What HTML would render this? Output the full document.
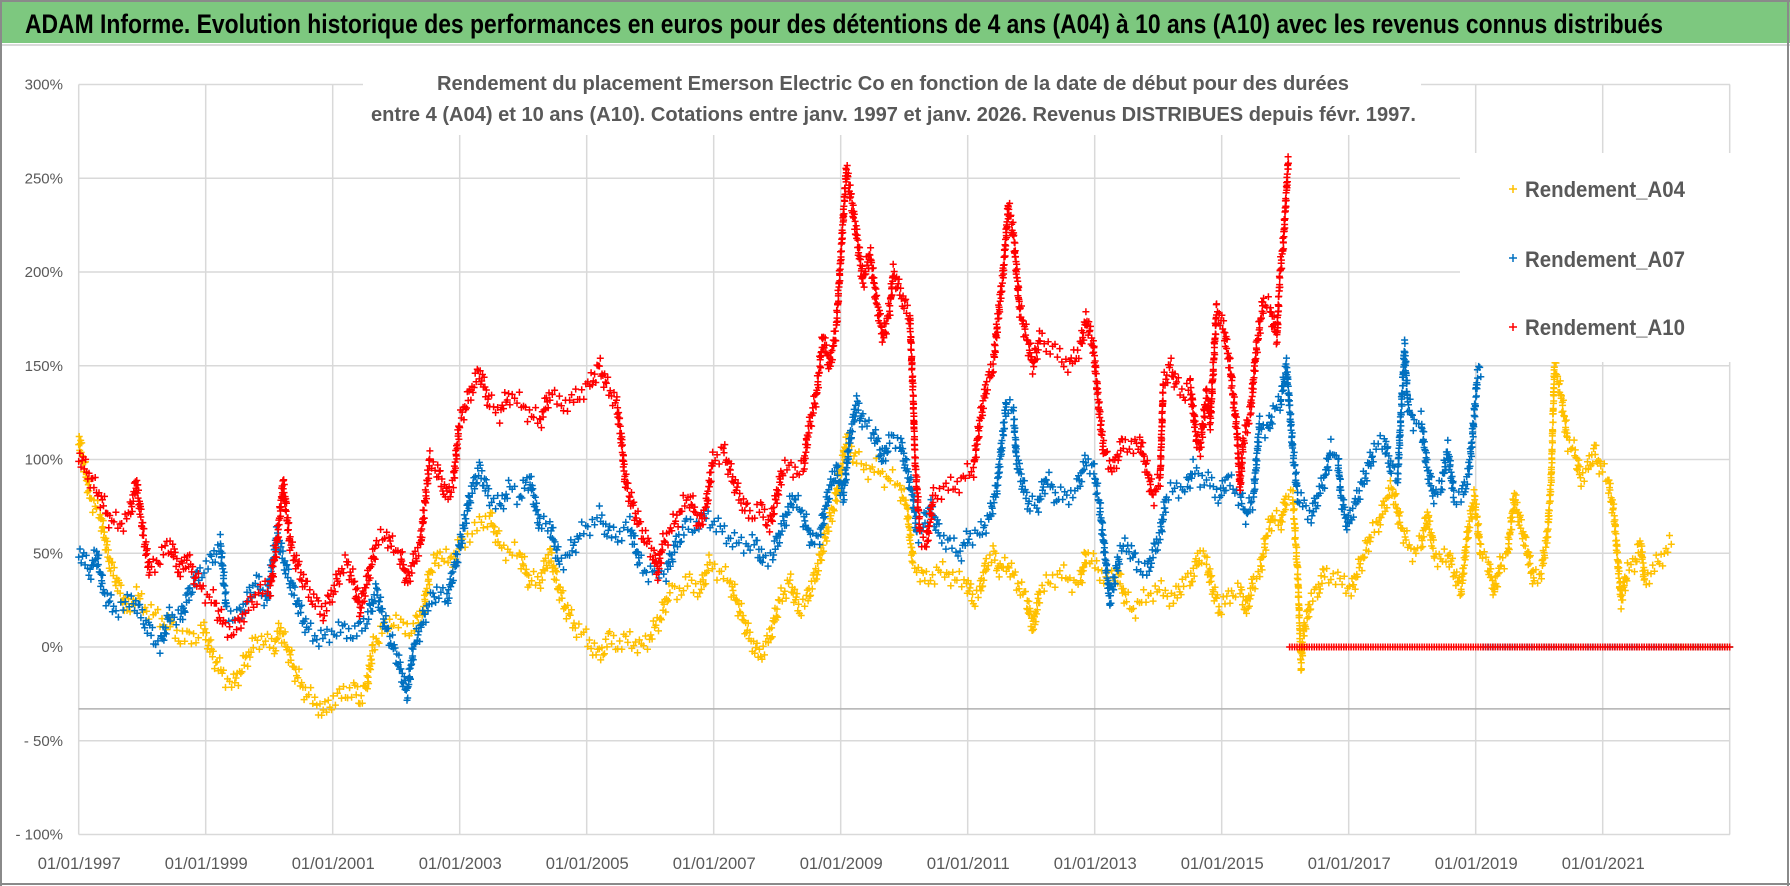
<!DOCTYPE html>
<html lang="fr">
<head>
<meta charset="utf-8">
<title>ADAM Informe - Emerson Electric Co</title>
<style>
html,body{margin:0;padding:0;background:#fff;}
svg{display:block;}
text{font-family:"Liberation Sans Narrow","Liberation Sans",sans-serif;}
</style>
</head>
<body>
<svg id="chart" width="1790" height="886" viewBox="0 0 1790 886" xmlns="http://www.w3.org/2000/svg">
  <rect x="0" y="0" width="1790" height="886" fill="#ffffff"/>
  <rect x="0" y="0" width="1790" height="43" fill="#7dc87f"/>
  <line x1="0" y1="45" x2="1790" y2="45" stroke="#d9d9d9" stroke-width="2"/>
  <text x="25" y="33" font-size="27" font-weight="bold" fill="#000" textLength="1638" lengthAdjust="spacingAndGlyphs">ADAM Informe. Evolution historique des performances en euros pour des détentions de 4 ans (A04) à 10 ans (A10) avec les revenus connus distribués</text>
  <g id="grid"></g>
  <g id="marks"></g>
  <rect x="363" y="60" width="1058" height="75" fill="#ffffff"/>
  <text x="437" y="90" font-size="20" font-weight="bold" fill="#595959" textLength="912" lengthAdjust="spacingAndGlyphs">Rendement du placement Emerson Electric Co en fonction de la date de début pour des durées</text>
  <text x="371" y="121" font-size="20" font-weight="bold" fill="#595959" textLength="1045" lengthAdjust="spacingAndGlyphs">entre 4 (A04) et 10 ans (A10). Cotations entre janv. 1997 et janv. 2026. Revenus DISTRIBUES depuis févr. 1997.</text>
  <g>
    <rect x="1460" y="153" width="275" height="209" fill="#ffffff"/>
    <g>
      <path d="M1509 189h8M1513 185v8" stroke="#ffc000" stroke-width="1.5"/>
      <text x="1525" y="197" font-size="22" font-weight="bold" fill="#595959" textLength="160" lengthAdjust="spacingAndGlyphs">Rendement_A04</text>
    </g>
    <g>
      <path d="M1509 258h8M1513 254v8" stroke="#0070c0" stroke-width="1.5"/>
      <text x="1525" y="267" font-size="22" font-weight="bold" fill="#595959" textLength="160" lengthAdjust="spacingAndGlyphs">Rendement_A07</text>
    </g>
    <g>
      <path d="M1509 327h8M1513 323v8" stroke="#ff0000" stroke-width="1.5"/>
      <text x="1525" y="335" font-size="22" font-weight="bold" fill="#595959" textLength="160" lengthAdjust="spacingAndGlyphs">Rendement_A10</text>
    </g>
  </g>
  <g id="axes"></g>
  <line x1="1" y1="0" x2="1" y2="886" stroke="#8a8a8a" stroke-width="2"/>
  <line x1="1788" y1="0" x2="1788" y2="886" stroke="#8a8a8a" stroke-width="2"/>
  <line x1="0" y1="884" x2="1790" y2="884" stroke="#8a8a8a" stroke-width="2"/>
  <line x1="0" y1="1" x2="1790" y2="1" stroke="#8a8a8a" stroke-width="2"/>
</svg>
<script>
const yTicks = [300, 250, 200, 150, 100, 50, 0, -50, -100];
const yTickLabels = ["300%", "250%", "200%", "150%", "100%", "50%", "0%", "- 50%", "- 100%"];
const xTickYears = [1997, 1999, 2001, 2003, 2005, 2007, 2009, 2011, 2013, 2015, 2017, 2019, 2021];
const xTickLabels = ["01/01/1997","01/01/1999","01/01/2001","01/01/2003","01/01/2005","01/01/2007","01/01/2009","01/01/2011","01/01/2013","01/01/2015","01/01/2017","01/01/2019","01/01/2021"];
const referenceLineValue = -33;

const a04Years = [1997.00,1997.07,1997.18,1997.34,1997.49,1997.60,1997.76,1997.91,1998.07,1998.28,1998.44,1998.60,1998.81,1998.96,1999.12,1999.28,1999.44,1999.59,1999.75,1999.91,2000.07,2000.17,2000.33,2000.43,2000.59,2000.75,2000.85,2001.01,2001.17,2001.33,2001.43,2001.54,2001.64,2001.80,2001.96,2002.11,2002.27,2002.43,2002.53,2002.69,2002.85,2003.01,
2003.16,2003.31,2003.47,2003.63,2003.79,2003.94,2004.10,2004.26,2004.42,2004.57,2004.68,2004.84,2004.99,2005.20,2005.36,2005.52,2005.68,2005.83,2005.99,2006.15,2006.31,2006.46,2006.62,2006.78,2006.94,2007.09,2007.25,2007.41,2007.57,2007.72,2007.88,2008.04,2008.20,2008.35,2008.46,2008.62,2008.77,2008.93,2009.09,2009.25,2009.40,2009.56,2009.72,
2009.78,2009.93,2010.04,2010.14,2010.25,2010.35,2010.51,2010.67,2010.83,2010.98,2011.09,2011.19,2011.30,2011.40,2011.51,2011.61,2011.77,2011.93,2012.03,2012.14,2012.30,2012.45,2012.61,2012.77,2012.87,2012.98,2013.08,2013.24,2013.35,2013.50,2013.61,2013.77,2013.92,2014.08,2014.24,2014.40,2014.50,2014.66,2014.76,2014.87,2014.97,2015.08,2015.18,2015.29,2015.39,2015.50,2015.60,2015.71,2015.81,2015.92,2016.02,
2016.12,2016.20,2016.25,2016.30,2016.41,2016.51,2016.62,2016.72,2016.83,2016.93,2017.04,2017.14,2017.25,2017.35,2017.46,2017.56,2017.67,2017.72,2017.82,2017.93,2018.03,2018.14,2018.24,2018.35,2018.45,2018.56,2018.66,2018.77,2018.87,2018.98,2019.08,2019.19,2019.29,2019.40,2019.50,2019.61,2019.71,2019.82,2019.92,2020.03,2020.13,2020.19,2020.24,2020.34,2020.45,2020.55,2020.66,2020.76,2020.87,2020.97,2021.08,2021.18,2021.24,2021.29,2021.39,2021.50,2021.60,2021.66,2021.76,2021.87,2021.97,2022.08,
2022.12,2022.50,2023.00];
const a04Values = [112,100,80,70,45,35,20,28,20,15,12,5,5,10,-5,-15,-20,-10,1,5,-1,10,-5,-15,-25,-30,-35,-28,-25,-22,-28,-20,1,10,15,10,10,20,40,50,45,55,
60,65,70,55,50,50,35,35,50,30,20,10,5,-5,5,1,5,-1,5,15,30,30,35,30,45,40,35,20,5,-5,5,25,35,20,25,40,60,80,110,100,95,95,90,
90,85,75,45,40,35,40,40,35,35,25,30,45,50,40,45,35,25,10,30,35,40,35,35,50,45,40,35,40,25,20,25,30,30,25,35,35,50,45,30,20,25,30,30,20,35,40,60,70,65,80,
80,37,-10,10,25,30,40,38,35,35,30,40,50,60,65,75,85,80,65,55,50,55,70,50,45,50,40,30,60,80,50,45,30,45,50,80,65,50,35,40,60,90,150,135,110,105,90,95,105,95,90,70,45,25,40,45,55,35,40,45,50,55,
0,0,0];

const a07Years = [1997.00,1997.18,1997.28,1997.39,1997.55,1997.70,1997.86,1998.02,1998.18,1998.28,1998.44,1998.60,1998.75,1998.91,1999.07,1999.23,1999.33,1999.49,1999.65,1999.80,1999.96,2000.12,2000.28,2000.43,2000.59,2000.75,2000.91,2001.06,2001.22,2001.38,2001.54,2001.69,2001.80,2001.90,2002.01,2002.17,2002.27,2002.38,2002.48,2002.64,2002.80,2002.90,2003.01,
2003.16,2003.31,2003.47,2003.63,2003.79,2003.94,2004.10,2004.26,2004.42,2004.57,2004.73,2004.89,2005.05,2005.20,2005.36,2005.52,2005.68,2005.83,2005.94,2006.10,2006.25,2006.41,2006.57,2006.73,2006.88,2007.04,2007.20,2007.36,2007.51,2007.67,2007.78,2007.93,2008.09,2008.25,2008.41,2008.56,2008.67,2008.83,2008.93,2009.04,2009.14,2009.25,2009.35,2009.51,2009.67,2009.77,
2009.83,2009.93,2010.04,2010.14,2010.20,2010.30,2010.41,2010.56,2010.72,2010.88,2011.04,2011.19,2011.35,2011.46,2011.61,2011.72,2011.77,2011.88,2011.98,2012.09,2012.24,2012.40,2012.56,2012.72,2012.87,2012.98,2013.08,2013.19,2013.24,2013.40,2013.50,2013.66,2013.82,2013.92,2014.03,2014.13,2014.29,2014.45,2014.55,2014.66,2014.76,2014.87,2014.97,2015.08,2015.18,2015.29,2015.39,2015.50,2015.60,2015.71,2015.81,2015.92,2016.02,
2016.12,2016.20,2016.30,2016.41,2016.51,2016.62,2016.72,2016.83,2016.88,2016.98,2017.09,2017.19,2017.30,2017.40,2017.56,2017.67,2017.77,2017.88,2017.93,2018.03,2018.14,2018.24,2018.35,2018.45,2018.56,2018.66,2018.77,2018.87,2018.93,2019.03,2019.08,
2019.12,2020.00,2021.00,2022.00,2023.00];
const a07Values = [52,40,50,30,20,22,25,15,5,1,18,15,30,40,45,55,20,15,25,35,25,60,40,25,10,5,5,10,8,8,15,30,15,5,-5,-25,-1,10,20,30,25,40,55,
80,95,80,75,85,80,90,65,65,45,50,60,65,70,60,60,65,45,40,40,40,55,65,65,70,65,60,55,55,55,45,50,65,80,70,55,60,85,95,80,110,130,120,115,100,110,
110,110,95,80,60,65,75,60,55,50,60,60,70,85,130,125,100,85,75,75,90,80,80,85,100,95,75,40,25,50,55,45,40,50,60,80,85,85,95,90,90,85,80,90,85,80,70,80,120,115,125,130,150,
105,80,75,70,80,90,105,100,80,65,75,85,95,105,110,95,90,160,130,120,120,95,80,85,105,80,80,90,105,145,148,
0,0,0,0,0];

const a10Years = [1997.00,1997.18,1997.34,1997.49,1997.65,1997.81,1997.91,1998.02,1998.12,1998.28,1998.44,1998.60,1998.70,1998.86,1998.96,1999.12,1999.28,1999.44,1999.65,1999.86,2000.01,2000.12,2000.22,2000.33,2000.43,2000.54,2000.70,2000.85,2001.01,2001.12,2001.22,2001.33,2001.43,2001.54,2001.69,2001.85,2001.96,2002.06,2002.17,2002.27,2002.38,2002.53,2002.64,2002.80,2002.90,
2003.00,2003.16,2003.31,2003.47,2003.63,2003.79,2003.94,2004.10,2004.26,2004.42,2004.57,2004.73,2004.89,2005.05,2005.20,2005.31,2005.47,2005.55,2005.60,2005.68,2005.78,2005.89,2006.04,2006.12,2006.20,2006.36,2006.52,2006.62,2006.78,2006.88,2006.99,2007.15,2007.30,2007.41,2007.57,2007.72,2007.88,2007.99,2008.09,2008.25,2008.41,2008.49,2008.62,2008.72,2008.83,2008.93,2009.09,2009.25,2009.35,2009.46,2009.56,2009.67,2009.77,
2009.83,2009.93,2010.09,2010.14,2010.17,2010.25,2010.35,2010.46,2010.62,2010.77,2010.93,2011.09,2011.19,2011.30,2011.40,2011.46,2011.56,2011.64,2011.72,2011.82,2011.93,2012.03,2012.14,2012.30,2012.45,2012.61,2012.77,2012.87,2012.98,2013.06,2013.14,2013.29,2013.45,2013.61,2013.71,2013.82,2013.92,2014.03,2014.08,2014.19,2014.29,2014.40,2014.50,2014.61,2014.66,2014.76,2014.82,2014.87,2014.92,2015.03,2015.13,2015.24,2015.29,2015.34,2015.45,2015.55,2015.66,2015.76,2015.87,2015.92,2015.97,2016.05,
2016.07,2017.00,2018.00,2019.00,2020.00,2021.00,2022.00,2023.00];
const a10Values = [103,90,80,68,65,72,88,60,40,48,55,40,48,35,30,25,12,8,20,30,30,55,88,55,45,35,25,18,30,40,45,35,20,35,55,60,52,50,35,45,55,100,95,80,88,
120,135,147,130,125,135,130,125,120,135,130,130,135,140,150,140,130,110,90,80,70,60,50,40,55,65,75,80,65,75,100,105,90,80,70,75,65,80,95,95,95,115,135,165,150,170,255,220,195,210,185,165,180,
200,190,175,135,100,60,55,80,85,85,90,95,120,140,150,170,200,235,220,180,165,150,165,160,155,150,160,175,160,130,105,95,110,105,110,95,80,90,140,150,140,135,140,110,105,135,120,150,180,170,150,115,85,110,125,160,185,180,165,200,215,260,
0,0,0,0,0,0,0,0];

const X0 = 78.7, PX_PER_YEAR = 63.5, Y0 = 647, PX_PER_PCT = 1.875;
const PLOT_LEFT = 78.7, PLOT_RIGHT = 1730, PLOT_TOP = 84.5, PLOT_BOTTOM = 834.5;
function xScale(year){ return X0 + (year - 1997) * PX_PER_YEAR; }
function yScale(v){ return Y0 - v * PX_PER_PCT; }

const NS = "http://www.w3.org/2000/svg";
const grid = document.getElementById("grid");
const axes = document.getElementById("axes");
const marks = document.getElementById("marks");

yTicks.forEach(function(t, i){
  const ln = document.createElementNS(NS, "line");
  
  
  ln.setAttribute("x1", PLOT_LEFT); ln.setAttribute("x2", PLOT_RIGHT);
  ln.setAttribute("y1", yScale(t)); ln.setAttribute("y2", yScale(t));
  ln.setAttribute("stroke", "#d9d9d9"); ln.setAttribute("stroke-width", "1.5");
  grid.appendChild(ln);
  const tx = document.createElementNS(NS, "text");
  
  
  tx.setAttribute("x", 63); tx.setAttribute("y", yScale(t) + 5);
  tx.setAttribute("text-anchor", "end"); tx.setAttribute("font-size", "15");
  tx.setAttribute("fill", "#595959");
  tx.textContent = yTickLabels[i];
  axes.appendChild(tx);
});
for (let yr = 1997; yr <= 2023; yr += 2) {
  const ln = document.createElementNS(NS, "line");
  
  
  ln.setAttribute("x1", xScale(yr)); ln.setAttribute("x2", xScale(yr));
  ln.setAttribute("y1", PLOT_TOP); ln.setAttribute("y2", PLOT_BOTTOM);
  ln.setAttribute("stroke", "#d9d9d9"); ln.setAttribute("stroke-width", "1.5");
  grid.appendChild(ln);
}
const refLine = document.createElementNS(NS, "line");


refLine.setAttribute("x1", PLOT_LEFT); refLine.setAttribute("x2", PLOT_RIGHT);
refLine.setAttribute("y1", yScale(referenceLineValue)); refLine.setAttribute("y2", yScale(referenceLineValue));
refLine.setAttribute("stroke", "#b0b0b0"); refLine.setAttribute("stroke-width", "1.5");
grid.appendChild(refLine);

xTickYears.forEach(function(yr, i){
  const tx = document.createElementNS(NS, "text");
  
  
  tx.setAttribute("x", xScale(yr) - 41); tx.setAttribute("y", 869);
  tx.setAttribute("font-size", "17"); tx.setAttribute("fill", "#595959");
  tx.setAttribute("textLength", "83"); tx.setAttribute("lengthAdjust", "spacingAndGlyphs");
  tx.textContent = xTickLabels[i];
  axes.appendChild(tx);
});

function drawSeries(years, values, color, name){
  let d = "";
  const a = 3.5;
  let counter = 0;
  function plus(x, y, spread){
    counter++;
    const off = spread ? (Math.sin(counter * 2.39) * 7 + Math.sin(counter * 0.77) * 4) : 0;
    const yy = y + off;
    d += "M" + (x - a).toFixed(1) + " " + yy.toFixed(1) + "h" + (2*a) + "M" + x.toFixed(1) + " " + (yy - a).toFixed(1) + "v" + (2*a);
  }
  for (let i = 0; i < years.length; i++) {
    const x = xScale(years[i]), y = yScale(values[i]);
    const isZero = values[i] === 0;
    plus(x, y, !isZero);
    if (i + 1 < years.length) {
      const nextZero = values[i+1] === 0;
      if (isZero !== nextZero) continue;
      const x2 = xScale(years[i+1]), y2 = yScale(values[i+1]);
      const dist = Math.max(Math.abs(x2 - x), Math.abs(y2 - y));
      const n = Math.ceil(dist / 2.5);
      for (let k = 1; k < n; k++) {
        const t = k / n;
        plus(x + (x2 - x) * t, y + (y2 - y) * t, !isZero);
      }
    }
  }
  const p = document.createElementNS(NS, "path");
  
  
  p.setAttribute("d", d);
  p.setAttribute("stroke", color);
  p.setAttribute("stroke-width", "1.5");
  p.setAttribute("fill", "none");
  marks.appendChild(p);
}
drawSeries(a04Years, a04Values, "#ffc000", "series-rendement-a04");
drawSeries(a07Years, a07Values, "#0070c0", "series-rendement-a07");
drawSeries(a10Years, a10Values, "#ff0000", "series-rendement-a10");
</script>
</body>
</html>
